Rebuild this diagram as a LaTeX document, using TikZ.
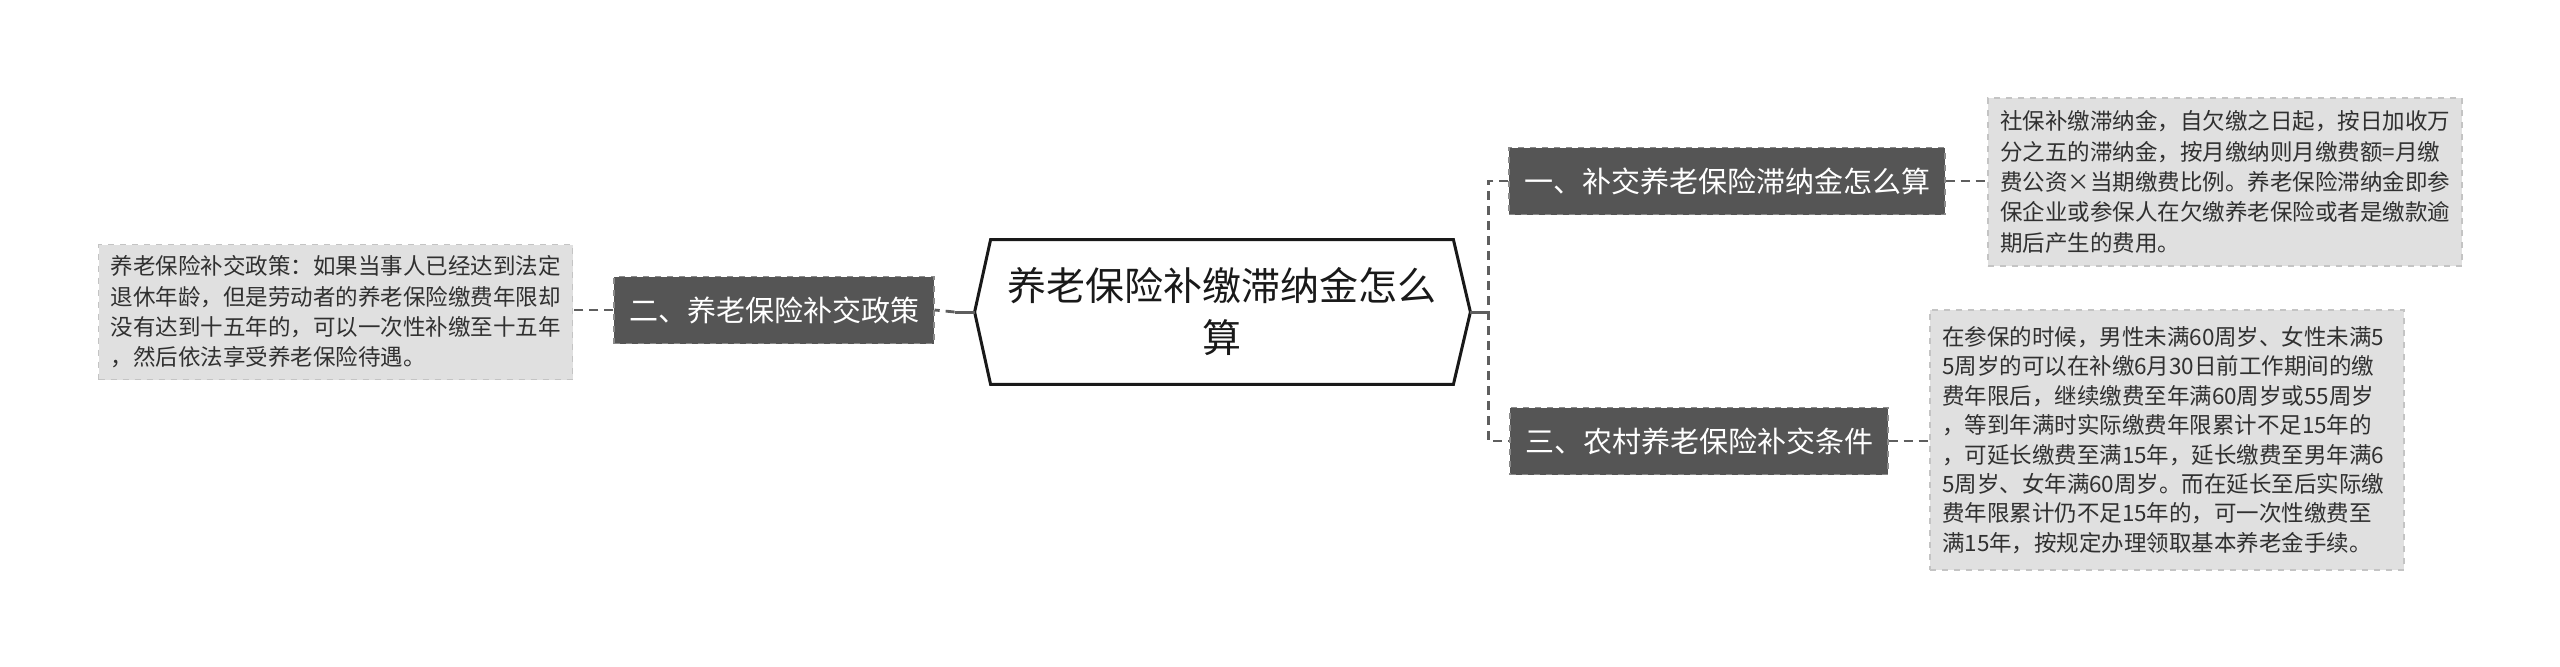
\documentclass[tikz,border=0pt]{standalone}
\usepackage{fontspec}
\setmainfont{Noto Sans CJK SC}
\usetikzlibrary{positioning}
\definecolor{branchfill}{HTML}{555555}
\definecolor{branchline}{HTML}{8A8A8A}
\definecolor{leaffill}{HTML}{E0E0E0}
\definecolor{leafline}{HTML}{C4C4C4}
\definecolor{leaftext}{HTML}{303030}
\definecolor{linkgray}{HTML}{5E5E5E}
\begin{document}
\begin{tikzpicture}[x=1pt, y=1pt,
  root/.style={minimum width=231pt, minimum height=72pt, inner sep=0pt,
    align=center, text=black!90, font=\fontsize{19.5}{26}\selectfont},
  branch/.style={fill=branchfill, draw=branchline, dashed, line width=0.6pt,
    text=white, inner xsep=7.5pt, inner ysep=0pt, minimum height=33.5pt,
    font=\fontsize{14.5}{17}\selectfont},
  leaf/.style={fill=leaffill, draw=leafline, dashed, line width=0.6pt,
    text=leaftext, text width=225pt, align=left, inner xsep=6pt,
    inner ysep=0pt, font=\fontsize{11.25}{15.2}\selectfont},
  link/.style={draw=linkgray, line width=1.4pt, dash pattern=on 4.5pt off 3pt},
  stub/.style={draw=linkgray, line width=1.5pt}
]
  \useasboundingbox (0,0) rectangle (1280,-333);

  % centre
  \node[root] (root) at (611,-156) {养老保险补缴滞纳金怎么\\算};
  \draw[line width=1.5pt, black!90] (root.north west) -- (root.north east)
    -- ([xshift=8.5pt]root.east) -- (root.south east) -- (root.south west)
    -- ([xshift=-8pt]root.west) -- cycle;

  % branches
  \node[branch] (b1) at (863.5,-90.5) {一、补交养老保险滞纳金怎么算};
  \node[branch] (b2) at (387,-155) {二、养老保险补交政策};
  \node[branch] (b3) at (849.5,-220.5) {三、农村养老保险补交条件};

  % leaves
  \node[leaf, minimum height=84pt] (l1) at (1112.5,-91) {社保补缴滞纳金，自欠缴之日起，按日加收万\\
分之五的滞纳金，按月缴纳则月缴费额=月缴\\
费公资×当期缴费比例。养老保险滞纳金即参\\
保企业或参保人在欠缴养老保险或者是缴款逾\\
期后产生的费用。};
  \node[leaf, minimum height=67.5pt] (l2) at (167.75,-156) {养老保险补交政策：如果当事人已经达到法定\\
退休年龄，但是劳动者的养老保险缴费年限却\\
没有达到十五年的，可以一次性补缴至十五年\\
，然后依法享受养老保险待遇。};
  \node[leaf, minimum height=130pt, font=\fontsize{11.25}{14.7}\selectfont] (l3) at (1083.5,-220) {在参保的时候，男性未满60周岁、女性未满5\\
5周岁的可以在补缴6月30日前工作期间的缴\\
费年限后，继续缴费至年满60周岁或55周岁\\
，等到年满时实际缴费年限累计不足15年的\\
，可延长缴费至满15年，延长缴费至男年满6\\
5周岁、女年满60周岁。而在延长至后实际缴\\
费年限累计仍不足15年的，可一次性缴费至\\
满15年，按规定办理领取基本养老金手续。};

  % connectors
  \coordinate (rj) at ([xshift=17.5pt]root.east);
  \coordinate (lj) at ([xshift=-18pt]root.west);
  \draw[stub] ([xshift=8.5pt]root.east) -- (rj);
  \draw[stub] ([xshift=-8pt]root.west) -- (lj);
  \draw[link] (b1.west) -| (rj) |- (b3.west);
  \draw[link] (lj) -- (b2.east);
  \draw[link] (b1.east) -- (b1.east -| l1.west);
  \draw[link] (b2.west) -- (b2.west -| l2.east);
  \draw[link] (b3.east) -- (b3.east -| l3.west);
\end{tikzpicture}
\end{document}
